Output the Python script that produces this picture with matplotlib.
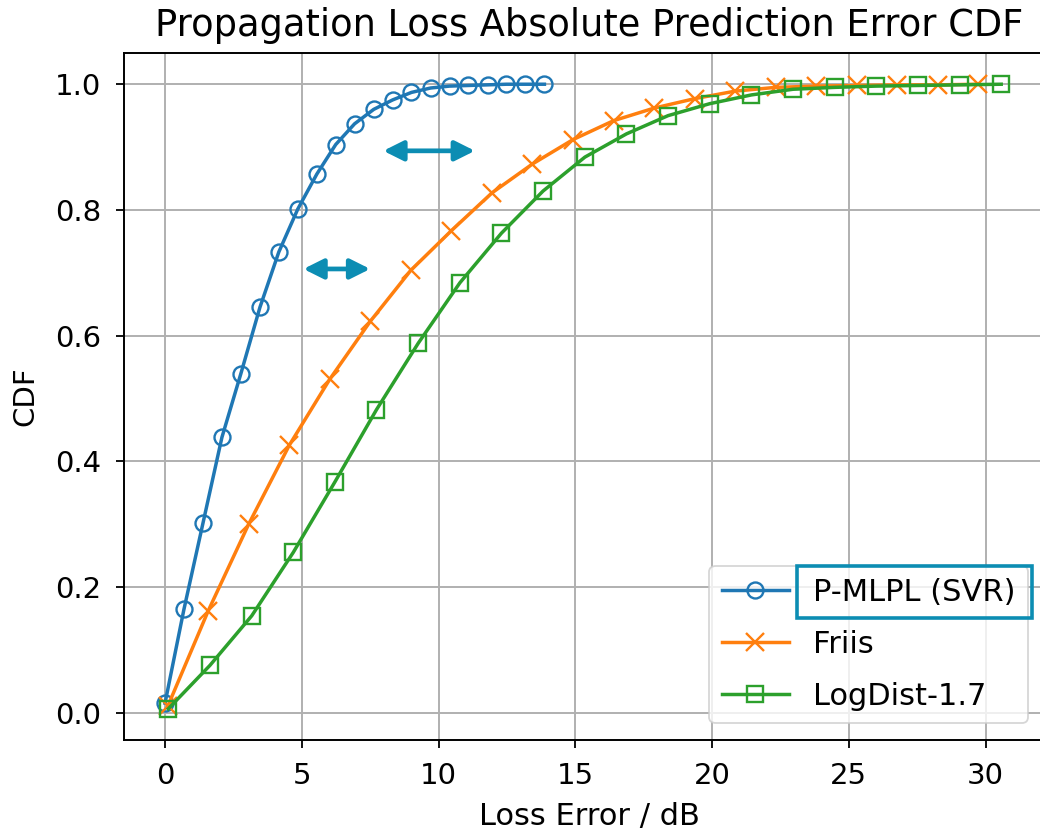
import matplotlib
matplotlib.use("Agg")
import matplotlib.pyplot as plt
from matplotlib.patches import Rectangle

# ---- data ----
svr_x = [0.0, 0.69, 1.39, 2.08, 2.77, 3.47, 4.16, 4.85, 5.55, 6.24, 6.93,
         7.63, 8.32, 9.01, 9.71, 10.40, 11.09, 11.79, 12.48, 13.17, 13.87]
svr_y = [0.015, 0.164, 0.302, 0.438, 0.539, 0.645, 0.733, 0.801, 0.857, 0.904, 0.937,
         0.960, 0.975, 0.987, 0.994, 0.997, 0.998, 0.999, 1.0, 1.0, 1.0]

friis_x = [0.10, 1.58, 3.06, 4.55, 6.03, 7.51, 8.99, 10.47, 11.95, 13.43, 14.92,
           16.40, 17.88, 19.36, 20.84, 22.32, 23.81, 25.29, 26.77, 28.25, 29.73]
friis_y = [0.010, 0.162, 0.300, 0.426, 0.531, 0.623, 0.704, 0.767, 0.827, 0.873, 0.912,
           0.942, 0.962, 0.977, 0.989, 0.995, 0.997, 0.998, 0.999, 0.999, 1.0]

logd_x = [0.12, 1.64, 3.17, 4.69, 6.21, 7.73, 9.26, 10.78, 12.30, 13.82, 15.35,
          16.87, 18.39, 19.91, 21.44, 22.96, 24.48, 26.00, 27.53, 29.05, 30.57]
logd_y = [0.006, 0.075, 0.154, 0.255, 0.367, 0.482, 0.588, 0.684, 0.763, 0.830, 0.884,
          0.921, 0.950, 0.969, 0.983, 0.992, 0.995, 0.997, 0.998, 0.999, 1.0]

labels = ["P-MLPL (SVR)", "Friis", "LogDist-1.7"]
colors = ["#1f77b4", "#ff7f0e", "#2ca02c"]
markers = ["o", "x", "s"]
xticks = [0, 5, 10, 15, 20, 25, 30]
yticks = [0.0, 0.2, 0.4, 0.6, 0.8, 1.0]

# annotation arrows (x start, x end, y)
arrow1 = (7.98, 11.33, 0.894)
arrow2 = (5.06, 7.50, 0.706)
accent = "#0c8db3"

W, H, DPI = 1040, 831, 100
fig = plt.figure(figsize=(W / DPI, H / DPI), dpi=DPI)
ax = fig.add_axes([124 / W, (H - 740) / H, 930 / W, 687 / H])

fs = 21
for xs, ys, lab, c, m in zip([svr_x, friis_x, logd_x], [svr_y, friis_y, logd_y],
                             labels, colors, markers):
    ax.plot(xs, ys, color=c, marker=m, label=lab, lw=2.5,
            markersize=11.5 if m != "x" else 12.5, markerfacecolor="none",
            markeredgewidth=1.7)

ax.set_xlim(-1.5, 32.5)
ax.set_xticks(xticks)
ax.set_yticks(yticks)
ax.grid(True, color="#b0b0b0", lw=1.4)
ax.tick_params(labelsize=fs, length=6, width=1.3)
ax.tick_params(axis="x", pad=9.5)
ax.tick_params(axis="y", pad=10.5)
for s in ax.spines.values():
    s.set_linewidth(1.4)
ax.set_title("Propagation Loss Absolute Prediction Error CDF", fontsize=26.5, pad=12)
ax.set_xlabel("Loss Error / dB", fontsize=22, labelpad=9)
ax.set_ylabel("CDF", fontsize=21, labelpad=11)

leg = ax.legend(loc="lower right", fontsize=22, handlelength=2.2, labelspacing=0.75,
                bbox_to_anchor=(1028 / W, (H - 723) / H),
                bbox_transform=fig.transFigure, borderaxespad=0)
leg.get_frame().set_linewidth(1.3)

for (x0, x1, y) in (arrow1, arrow2):
    ax.annotate("", xy=(x1, y), xytext=(x0, y),
                arrowprops=dict(arrowstyle="<|-|>,head_length=1.2,head_width=0.6",
                                color=accent, lw=3.4, shrinkA=0, shrinkB=0))

fig.canvas.draw()
bb = leg.get_texts()[0].get_window_extent()
cy = (bb.y0 + bb.y1) / 2
rect = Rectangle((bb.x0 - 16, cy - 26), bb.width + 32, 52,
                 transform=None, fill=False, edgecolor=accent, lw=2.6, zorder=10)
fig.add_artist(rect)

fig.savefig("out.png", dpi=DPI)
